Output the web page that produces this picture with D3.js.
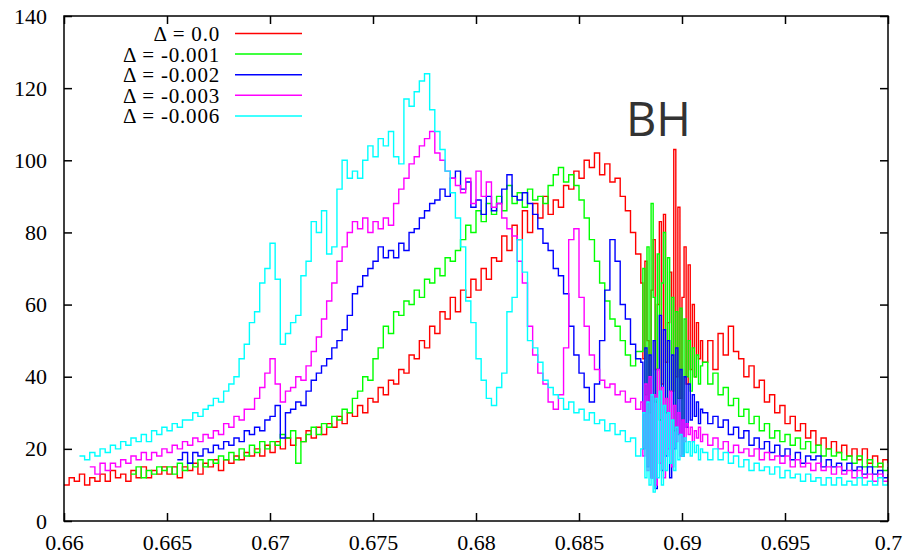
<!DOCTYPE html>
<html>
<head>
<meta charset="utf-8">
<script src="https://cdn.jsdelivr.net/npm/d3@7"></script>
<style>
  body { margin: 0; background: #fff; }
</style>
</head>
<body>
<div id="chart"></div>
<script>
// axis ticks
const xTicks = [0.66, 0.665, 0.67, 0.675, 0.68, 0.685, 0.69, 0.695, 0.70];
const xTickLabels = ["0.66", "0.665", "0.67", "0.675", "0.68", "0.685", "0.69", "0.695", "0.7"];
const yTicks = [0, 20, 40, 60, 80, 100, 120, 140];

const seriesNames = ["\u0394 = 0.0", "\u0394 = -0.001", "\u0394 = -0.002", "\u0394 = -0.003", "\u0394 = -0.006"];

// sampling of the curves: coarse grid, finer grid around the BH spikes
const coarseStep = 0.00025;
const fineStep = 0.0001;
const bhStart = 0.688;
const postStart = 0.691;
const seriesStart = [0.66, 0.66325, 0.6655, 0.66125, 0.66075];

// delta = 0.0
const redPre = [10,12,11,13, 10,12,11,13, 11,14,12,13, 11,14,12,15, 12,14,13,15, 13,15,12,15,
  14,16,13,16, 15,17,14,17, 16,18,17,19, 18,20,18,21, 19,22,20,23, 21,23,22,25, 23,26,24,27,
  26,29,27,30, 29,32,30,34, 33,37,35,39, 38,42,41,46, 45,50,48,54, 52,58,56,62, 58,64,62,67,
  64,70,67,73, 72,79,75,82, 78,86,80,88, 84,90,85,89, 87,93,92,97, 95,100,98,102, 96,99,94,95,
  90,86,80,74];
const redBH = [66,45,72,50,40,64,78,42,60,83, 38,85,44,55,69,36,103,40,87,34, 62,76,38,71,42,60,40,55,45,50];
const redPost = [44,50,42,52,46,54,47,45,40,43,37,39,33,35,30,32,27,29,25,27,23,25,21,23,20,22,19,21,18,20,17,20,16,18,15,17,16];

// delta = -0.001
const greenPre = [13,15,12, 14,13,15,14, 15,13,16,14, 16,15,17,15, 17,16,18,17, 19,17,20,18,
  21,19,22,20, 22,21,24,23, 25,16,22,24, 26,24,27,26, 29,28,31,30, 34,36,40,39, 45,48,54,52,
  58,57,61,60, 64,62,67,66, 70,68,73,72, 75,78,82,80, 86,83,88,85, 90,86,93,88, 91,87,92,89,
  90,88,93,96, 98,94,96,93, 89,84,78,72, 66,61,56,54, 50,46,43,47];
const greenBH = [47,70,35,76,30,88,62,33,74,28, 66,80,30,73,36,62,25,58,34,59, 28,56,40,50,36,48,40,46,38,43];
const greenPost = [44,38,41,35,37,32,34,29,31,27,29,25,27,23,25,22,24,21,23,20,22,19,21,18,20,18,19,17,18,16,18,15,17,15,16,14,15];

// delta = -0.002
const bluePre = [17,19, 16,19,18,20, 19,21,20,22, 21,23,22,25, 24,26,25,28, 29,32,23,30,
  31,33,32,36, 39,41,43,45, 48,50,53,57, 63,65,68,70, 72,76,73,75, 73,77,75,80, 81,84,86,88,
  89,92,90,95, 97,92,94,87, 89,85,90,86, 88,92,96,90, 89,91,88,85, 81,77,75,70, 68,63,54,46,
  41,37,33,38, 50,64,78,72, 60,56,49,45];
const blueBH = [44,20,48,15,46,12,50,9,42,57, 14,53,18,50,12,46,20,48,24,42, 18,40,26,38,28,35,29,33,27,31];
const bluePost = [30,27,29,26,28,24,26,23,25,21,23,20,22,19,21,18,20,17,19,16,18,17,18,15,17,15,16,14,16,14,15,13,15,13,14,12,13];

// delta = -0.003
const magentaPre = [15,13,16, 14,16,15,17, 16,18,17,19, 17,19,18,20, 19,21,20,22, 21,23,22,24,
  23,25,24,27, 26,29,28,31, 31,34,37,41, 45,38,33,36, 37,40,39,43, 47,51,56,61, 66,72,76,80,
  83,81,84,80, 83,81,84,82, 88,92,95,99, 101,104,106,108, 102,100,97,95, 93,91,95,88,
  97,90,94,87, 88,84,81,79, 72,66,54,46, 41,38,33,31, 35,48,78,81, 62,54,46,42, 39,37,38,35,
  36,33,34,31];
const magentaBH = [33,18,38,14,40,12,35,10,42,16, 37,12,34,20,36,15,32,22,30,18, 28,22,27,24,26,22,25,23,26,22];
const magentaPost = [24,21,23,20,22,19,21,19,20,18,20,17,19,17,18,16,18,15,17,15,16,14,16,14,15,13,15,13,14,12,14,12,13,11,13,11,12];

// delta = -0.006
const cyanPre = [18, 17,19,18,20, 19,21,20,22, 21,23,22,24, 22,25,24,26, 25,27,26,28, 28,30,29,31,
  32,34,33,36, 38,40,45,49, 55,58,66,70, 77,67,49,52, 55,57,68,72, 83,80,86,74, 76,92,100,95,
  97,95,100,104, 101,106,104,108, 101,99,117,115, 119,122,124,114, 108,103,97,91, 84,76,61,55,
  45,39,34,32, 37,41,58,62, 78,69,50,48, 44,39,37,35, 34,31,33,30, 31,28,30,27, 28,25,27,24,
  25,22,23,18];
const cyanBH = [20,30,12,33,10,35,8,34,12,36, 10,32,14,30,16,28,14,26,17,24, 18,23,19,22,18,22,19,21,17,20];
const cyanPost = [19,17,20,17,19,16,18,15,17,14,16,14,15,13,15,12,14,12,13,11,13,11,12,10,12,10,12,10,11,10,12,10,11,10,12,10,11];

const colors = ["#ff0000", "#00ff00", "#0000ff", "#ff00ff", "#00ffff"];
const serifFont = "'Liberation Serif', 'DejaVu Serif', 'Times New Roman', serif";

function buildSeries(start, pre, bh, post) {
  let pts = [];
  pre.forEach(function(v, i) { pts.push({x: start + i * coarseStep, y: v}); });
  bh.forEach(function(v, i) { pts.push({x: bhStart + i * fineStep, y: v}); });
  post.forEach(function(v, i) { pts.push({x: postStart + i * coarseStep, y: v}); });
  return pts;
}

let allSeries = [
  buildSeries(seriesStart[0], redPre, redBH, redPost),
  buildSeries(seriesStart[1], greenPre, greenBH, greenPost),
  buildSeries(seriesStart[2], bluePre, blueBH, bluePost),
  buildSeries(seriesStart[3], magentaPre, magentaBH, magentaPost),
  buildSeries(seriesStart[4], cyanPre, cyanBH, cyanPost)
];

let svgWidth = 908, svgHeight = 556;
let plotLeft = 64, plotRight = 888, plotTop = 16, plotBottom = 521;

let svg = d3.select("#chart").append("svg")
  .attr("width", svgWidth)
  .attr("height", svgHeight);

let xScale = d3.scaleLinear().domain([0.66, 0.70]).range([plotLeft, plotRight]);
let yScale = d3.scaleLinear().domain([0, 140]).range([plotBottom, plotTop]);

// clip so the steps never leave the frame
svg.append("clipPath").attr("id", "plotClip")
  .append("rect")
  .attr("x", plotLeft).attr("y", plotTop)
  .attr("width", plotRight - plotLeft).attr("height", plotBottom - plotTop);

let lineGen = d3.line()
  .x(function(d) { return xScale(d.x); })
  .y(function(d) { return yScale(d.y); })
  .curve(d3.curveStepAfter);

let plot = svg.append("g").attr("clip-path", "url(#plotClip)");

allSeries.forEach(function(s, i) {
  plot.append("path")
    .attr("d", lineGen(s))
    .attr("fill", "none")
    .attr("stroke", colors[i])
    .attr("stroke-width", 1.4);
});

// axes, ticks pointing inwards on all four sides
let xAxis = d3.axisBottom(xScale).tickValues(xTicks)
  .tickFormat(function(d, i) { return xTickLabels[i]; })
  .tickSize(-8).tickPadding(13);
let xAxisTop = d3.axisTop(xScale).tickValues(xTicks).tickFormat("").tickSize(-8);
let yAxis = d3.axisLeft(yScale).tickValues(yTicks).tickFormat(d3.format("d"))
  .tickSize(-8).tickPadding(17);
let yAxisRight = d3.axisRight(yScale).tickValues(yTicks).tickFormat("").tickSize(-8);

svg.append("g").attr("transform", "translate(0," + plotBottom + ")").call(xAxis);
svg.append("g").attr("transform", "translate(0," + plotTop + ")").call(xAxisTop);
svg.append("g").attr("transform", "translate(" + plotLeft + ",0)").call(yAxis);
svg.append("g").attr("transform", "translate(" + plotRight + ",0)").call(yAxisRight);
svg.selectAll(".domain").remove();
svg.selectAll(".tick line").attr("stroke", "#000").attr("stroke-width", 1.5);
svg.selectAll(".tick text")
  .style("font-family", serifFont)
  .style("font-size", "22px")
  .attr("fill", "#000");

svg.append("rect")
  .attr("x", plotLeft).attr("y", plotTop)
  .attr("width", plotRight - plotLeft).attr("height", plotBottom - plotTop)
  .attr("fill", "none")
  .attr("stroke", "#000")
  .attr("stroke-width", 1.5);

// legend
let legend = svg.append("g");
seriesNames.forEach(function(name, i) {
  let rowY = 33.5 + i * 20.6;
  legend.append("text")
    .attr("x", 220)
    .attr("y", rowY + 7.5)
    .style("text-anchor", "end")
    .style("font-family", serifFont)
    .style("font-size", "21px")
    .style("letter-spacing", "0.8px")
    .text(name);
  legend.append("line")
    .attr("x1", 235).attr("x2", 302)
    .attr("y1", rowY).attr("y2", rowY)
    .attr("stroke", colors[i])
    .attr("stroke-width", 1.5);
});

svg.append("text")
  .attr("x", 626)
  .attr("y", 136)
  .style("font-family", "'Open Sans', 'DejaVu Sans', sans-serif")
  .style("font-size", "47px")
  .style("fill", "#333")
  .text("BH");
</script>
</body>
</html>
